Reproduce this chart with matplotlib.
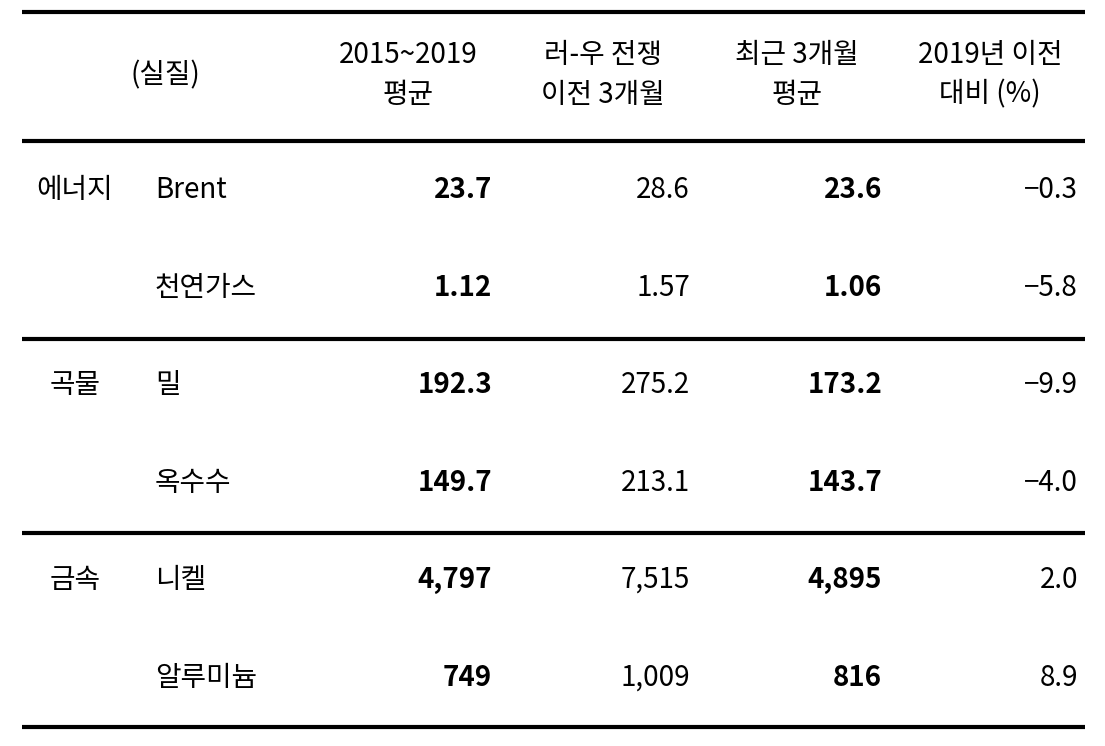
import matplotlib.pyplot as plt

plt.rcParams['font.family'] = ['Noto Sans CJK JP', 'Noto Sans CJK KR', 'Noto Sans CJK SC',
                               'Noto Sans CJK TC', 'DejaVu Sans']

# === Data ===
headers = ["2015~2019\n평균", "러-우 전쟁\n이전 3개월", "최근 3개월\n평균", "2019년 이전\n대비 (%)"]
groups = ["에너지", "곡물", "금속"]
items = ["Brent", "천연가스", "밀", "옥수수", "니켈", "알루미늄"]
avg_2015_2019 = ["23.7", "1.12", "192.3", "149.7", "4,797", "749"]
pre_war_3m = ["28.6", "1.57", "275.2", "213.1", "7,515", "1,009"]
recent_3m = ["23.6", "1.06", "173.2", "143.7", "4,895", "816"]
vs_2019 = ["−0.3", "−5.8", "−9.9", "−4.0", "2.0", "8.9"]

# === Layout (pixels) ===
fig = plt.figure(figsize=(11.05, 7.46), dpi=100)
ax = fig.add_axes([0, 0, 1, 1])
ax.set_xlim(0, 1105)
ax.set_ylim(746, 0)
ax.axis('off')

fs = 20
col_center = [408, 603, 797, 990]
col_right = [492, 690, 882, 1078]
row_y = [190, 288, 385, 483, 580, 678]
group_y = [190, 385, 580]

for y in [12, 141, 339, 533, 727]:
    ax.plot([22, 1085], [y, y], color='black', lw=3, solid_capstyle='butt')

ax.text(165, 75, "(실질)", ha='center', va='center', fontsize=fs)
for x, h in zip(col_center, headers):
    ax.text(x, 75, h, ha='center', va='center', fontsize=fs, linespacing=1.4)

for y, g in zip(group_y, groups):
    ax.text(75, y, g, ha='center', va='center', fontsize=fs)

cols = [avg_2015_2019, pre_war_3m, recent_3m, vs_2019]
bold = [True, False, True, False]
for i, y in enumerate(row_y):
    ax.text(155, y, items[i], ha='left', va='center', fontsize=fs)
    for j, col in enumerate(cols):
        ax.text(col_right[j], y, col[i], ha='right', va='center', fontsize=fs,
                fontweight='bold' if bold[j] else 'normal')

fig.savefig("out.png", dpi=100)
